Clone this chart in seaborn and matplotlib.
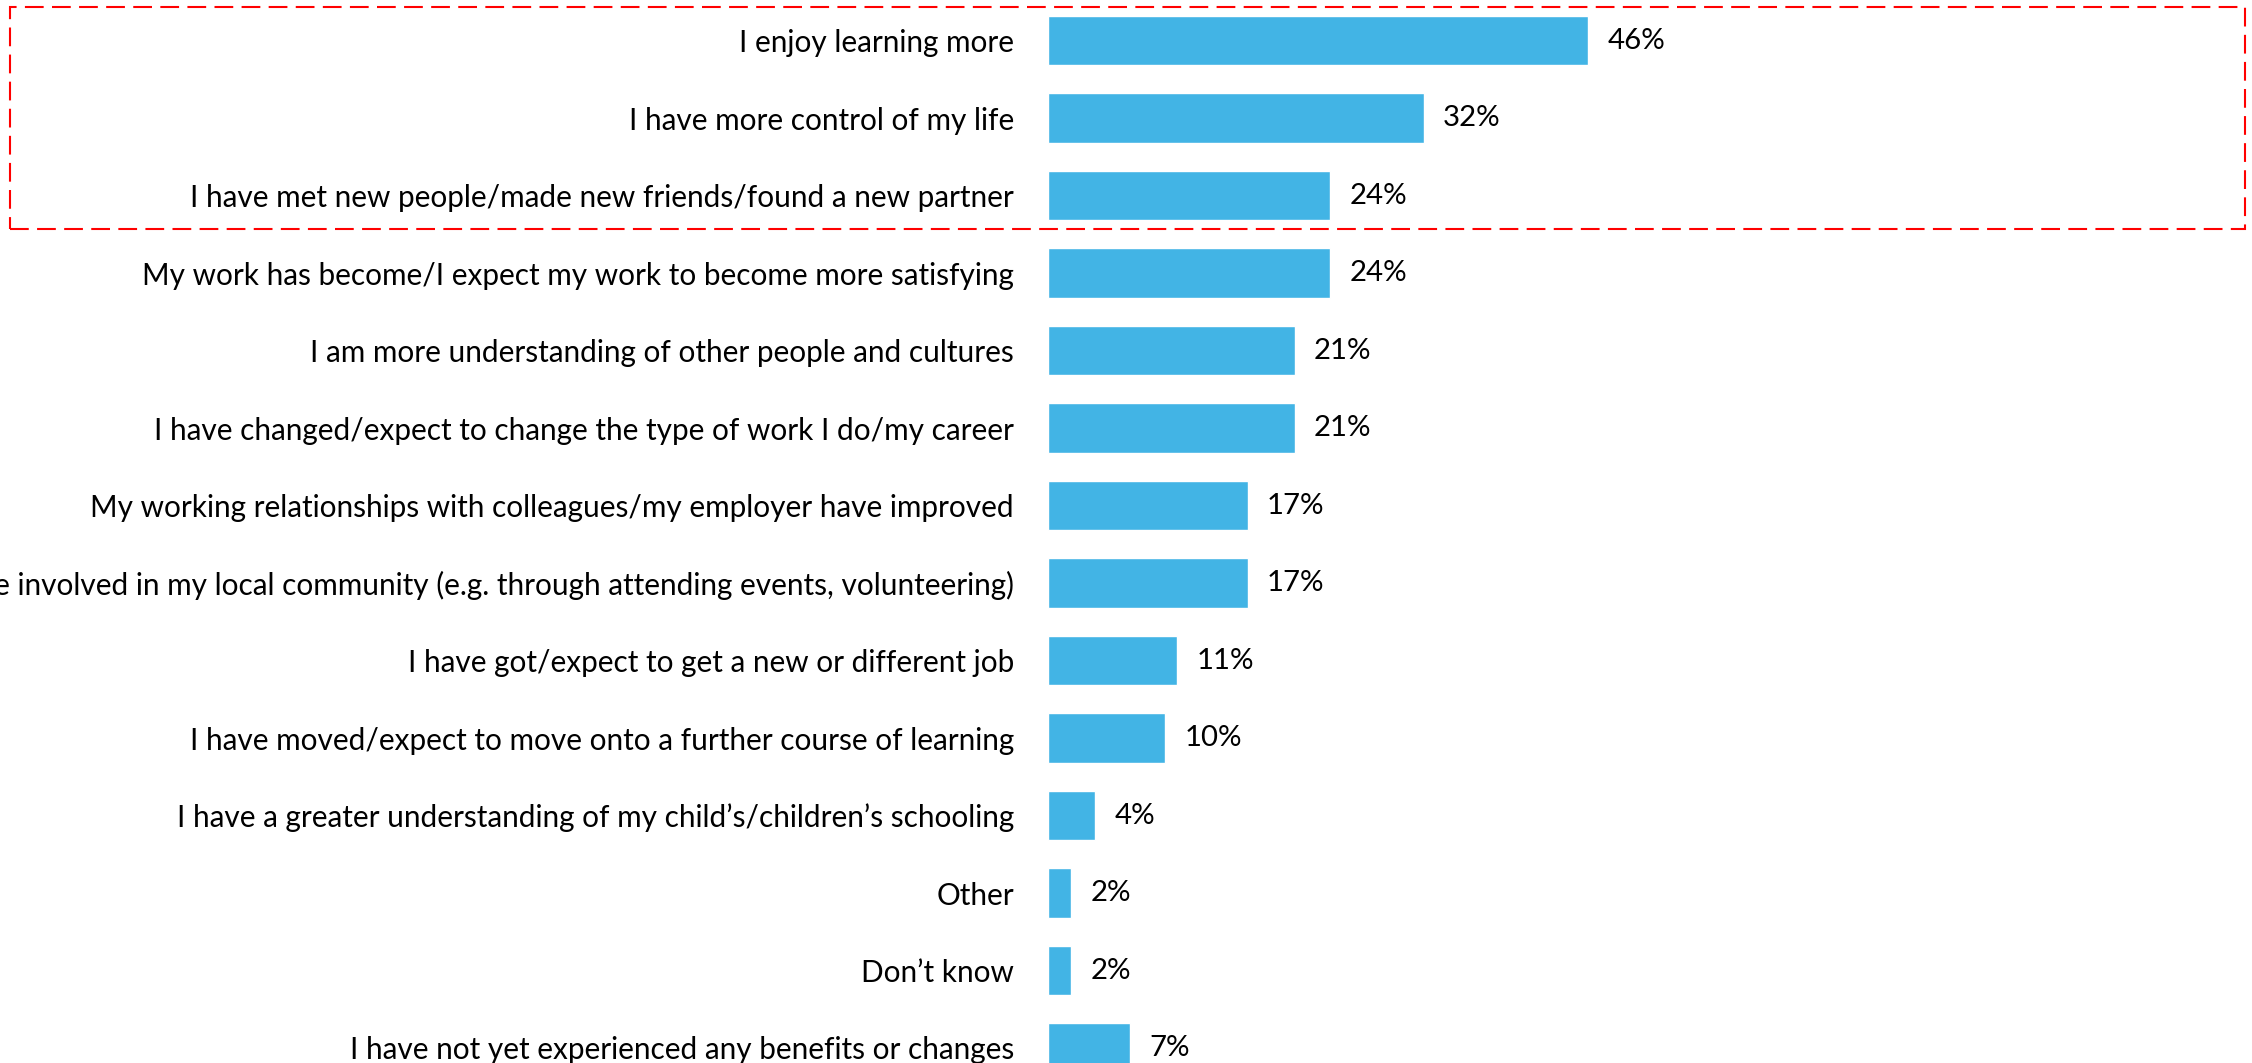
import matplotlib
matplotlib.use("Agg")
import matplotlib.pyplot as plt
import seaborn as sns
import pandas as pd
from matplotlib.patches import Rectangle

categories = [
    "I enjoy learning more",
    "I have more control of my life",
    "I have met new people/made new friends/found a new partner",
    "My work has become/I expect my work to become more satisfying",
    "I am more understanding of other people and cultures",
    "I have changed/expect to change the type of work I do/my career",
    "My working relationships with colleagues/my employer have improved",
    "I am more involved in my local community (e.g. through attending events, volunteering)",
    "I have got/expect to get a new or different job",
    "I have moved/expect to move onto a further course of learning",
    "I have a greater understanding of my child\u2019s/children\u2019s schooling",
    "Other",
    "Don\u2019t know",
    "I have not yet experienced any benefits or changes",
]
values = [46, 32, 24, 24, 21, 21, 17, 17, 11, 10, 4, 2, 2, 7]
value_labels = [f"{v}%" for v in values]

df = pd.DataFrame({"category": categories, "value": values})

sns.set_theme(style="white")
plt.rcParams["font.family"] = ["Lato", "DejaVu Sans"]

W, H = 2252, 1063
fig = plt.figure(figsize=(W / 100, H / 100), dpi=100)

# axes placement (pixel-derived)
x0_px = 1048
px_per_pct = 11.74
xmax = 100
pitch = 77.5
first_center = 40.5
n = len(categories)
top_px = first_center - pitch / 2
bot_px = first_center + (n - 1) * pitch + pitch / 2
ax = fig.add_axes([x0_px / W, 1 - bot_px / H, xmax * px_per_pct / W, (bot_px - top_px) / H])

sns.barplot(data=df, y="category", x="value", orient="h", color="#42B4E5",
            width=0.645, saturation=1, ax=ax)

ax.set_xlim(0, xmax)
ax.set_ylim(n - 0.5, -0.5)
ax.bar_label(ax.containers[0], labels=value_labels, padding=14, fontsize=21.2, color="black")

for s in ax.spines.values():
    s.set_visible(False)
ax.set_xlabel("")
ax.set_ylabel("")
ax.set_xticks([])
ax.tick_params(axis="y", length=0, pad=24.5, labelsize=21.4, labelcolor="black")

rect = Rectangle((10 / W, 1 - 229 / H), (2245 - 10) / W, (229 - 7) / H,
                 transform=fig.transFigure, fill=False, edgecolor="#FF0000",
                 linewidth=1.5, linestyle=(0, (9, 4)), clip_on=False)
fig.patches.append(rect)

fig.savefig("out.png", dpi=100)
